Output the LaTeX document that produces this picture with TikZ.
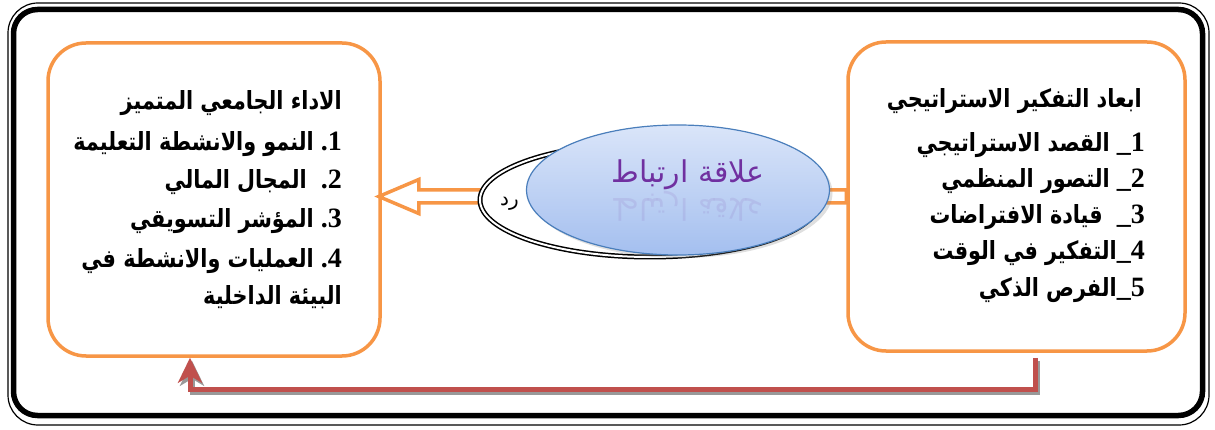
\documentclass[tikz,border=0pt]{standalone}
\usepackage{fontspec}
\usepackage{graphicx}
\usetikzlibrary{arrows.meta,shadows,shapes.geometric,calc}
\TeXXeTstate=1
\newfontfamily\arb[Script=Arabic]{DejaVu Sans}
\newfontfamily\numf{Liberation Serif}
\definecolor{orng}{HTML}{F79646}
\definecolor{redl}{HTML}{C0504D}
\definecolor{bluel}{HTML}{4A7EBB}
\definecolor{bltop}{HTML}{DAE5F9}
\definecolor{blbot}{HTML}{A4BFEF}
\definecolor{purp}{HTML}{7030A0}
\newcommand\artx[1]{\scalebox{0.83}[1]{\arb\bfseries\fontsize{25}{28}\selectfont\beginR #1\endR}}
\newcommand\nmtx[1]{{\numf\bfseries\fontsize{28}{30}\selectfont #1}}
\begin{document}
\begin{tikzpicture}[x=1pt,y=-1pt,
  box/.style={draw=orng, line width=3.5pt, rounded corners=38pt, fill=white},
  ln/.style={anchor=base east, inner sep=0pt},
  redpath/.style={redl, line width=5pt},
  shadowpath/.style={black!40, line width=5pt}]
\useasboundingbox (0,0) rectangle (1215,430);
% outer frame
\draw[line width=1.2pt, rounded corners=30pt] (8,3) rectangle (1209,425);
\draw[line width=5.5pt, rounded corners=24pt] (13.5,9.5) rectangle (1202.5,415.5);
% boxes
\node[box, minimum width=332pt, minimum height=313pt] (lbox) at (214,199.5) {};
\node[box, minimum width=337pt, minimum height=309pt] (rbox) at (1016.5,196.5) {};
% hollow arrow
\coordinate (atip) at ($(lbox.east |- rbox.west)+(-3,0)$);
\draw[orng, line width=3.5pt, fill=white, line join=miter]
  (atip) -- ++(40,-17) -- ++(0,10.5) -- ($(rbox.west)+(0,-6.5)$)
  -- ($(rbox.west)+(0,6.5)$) -- ($(atip)+(40,6.5)$) -- ++(0,10.5) -- cycle;
% black double ellipse
\node[ellipse, draw, double, double distance=2pt, line width=1.5pt, fill=white,
  minimum width=340pt, minimum height=114pt] (bell) at (650,200) {};
\node[anchor=base west, inner sep=0pt, font=\arb\fontsize{20}{22}\selectfont] (frag) at (500,206) {\beginR رد\endR};
% blue ellipse
\node[ellipse, draw=bluel, line width=1.2pt, top color=bltop, bottom color=blbot,
  minimum width=303pt, minimum height=130pt,
  drop shadow={opacity=0.25, shadow xshift=3pt, shadow yshift=-3pt}] (rell) at (678,190) {};
\node[text=purp, inner sep=0pt, font=\arb\fontsize{30}{32}\selectfont] (rel) at (688,175) {\beginR علاقة ارتباط\endR};
\node[text=purp, opacity=0.1, inner sep=0pt, font=\arb\fontsize{30}{32}\selectfont] (relr) at (688,206) {\scalebox{1}[-1]{\beginR علاقة ارتباط\endR}};
% left texts
\node[ln] (l0) at (342,110) {\artx{الاداء الجامعي المتميز}};
\node[ln] (l1) at (342,151) {\artx{النمو والانشطة التعليمة}\nmtx{ .1}};
\node[ln] (l2) at (342,189) {\artx{المجال المالي}\nmtx{\ \ .2}};
\node[ln] (l3) at (342,228) {\artx{المؤشر التسويقي}\nmtx{ .3}};
\node[ln] (l4) at (342,268) {\artx{العمليات والانشطة في}\nmtx{ .4}};
\node[ln] (l5) at (342,305) {\artx{البيئة الداخلية}};
% right texts
\node[ln] (r0) at (1142,108) {\artx{ابعاد التفكير الاستراتيجي}};
\node[ln] (r1) at (1145,152) {\artx{القصد الاستراتيجي}\nmtx{ \_1}};
\node[ln] (r2) at (1145,188) {\artx{التصور المنظمي}\nmtx{ \_2}};
\node[ln] (r3) at (1145,224) {\artx{قيادة الافتراضات}\nmtx{\ \ \_3}};
\node[ln] (r4) at (1145,260) {\artx{التفكير في الوقت}\nmtx{\_4}};
\node[ln] (r5) at (1145,297) {\artx{الفرص الذكي}\nmtx{\_5}};
% red connector
\coordinate (rs) at ($(rbox.south)+(18.5,5)$);
\coordinate (rb) at ($(rs)+(0,32)$);
\coordinate (lt) at ($(lbox.south)+(-24,0)$);
\draw[shadowpath, -{Stealth[length=25pt,width=24pt,inset=7pt]}]
  ($(rs)+(2,3)$) -- ($(rb)+(2,3)$) -| ($(lt)+(2,3)$);
\draw[redpath, -{Stealth[length=25pt,width=24pt,inset=7pt]}]
  (rs) -- (rb) -| (lt);
\end{tikzpicture}
\end{document}
